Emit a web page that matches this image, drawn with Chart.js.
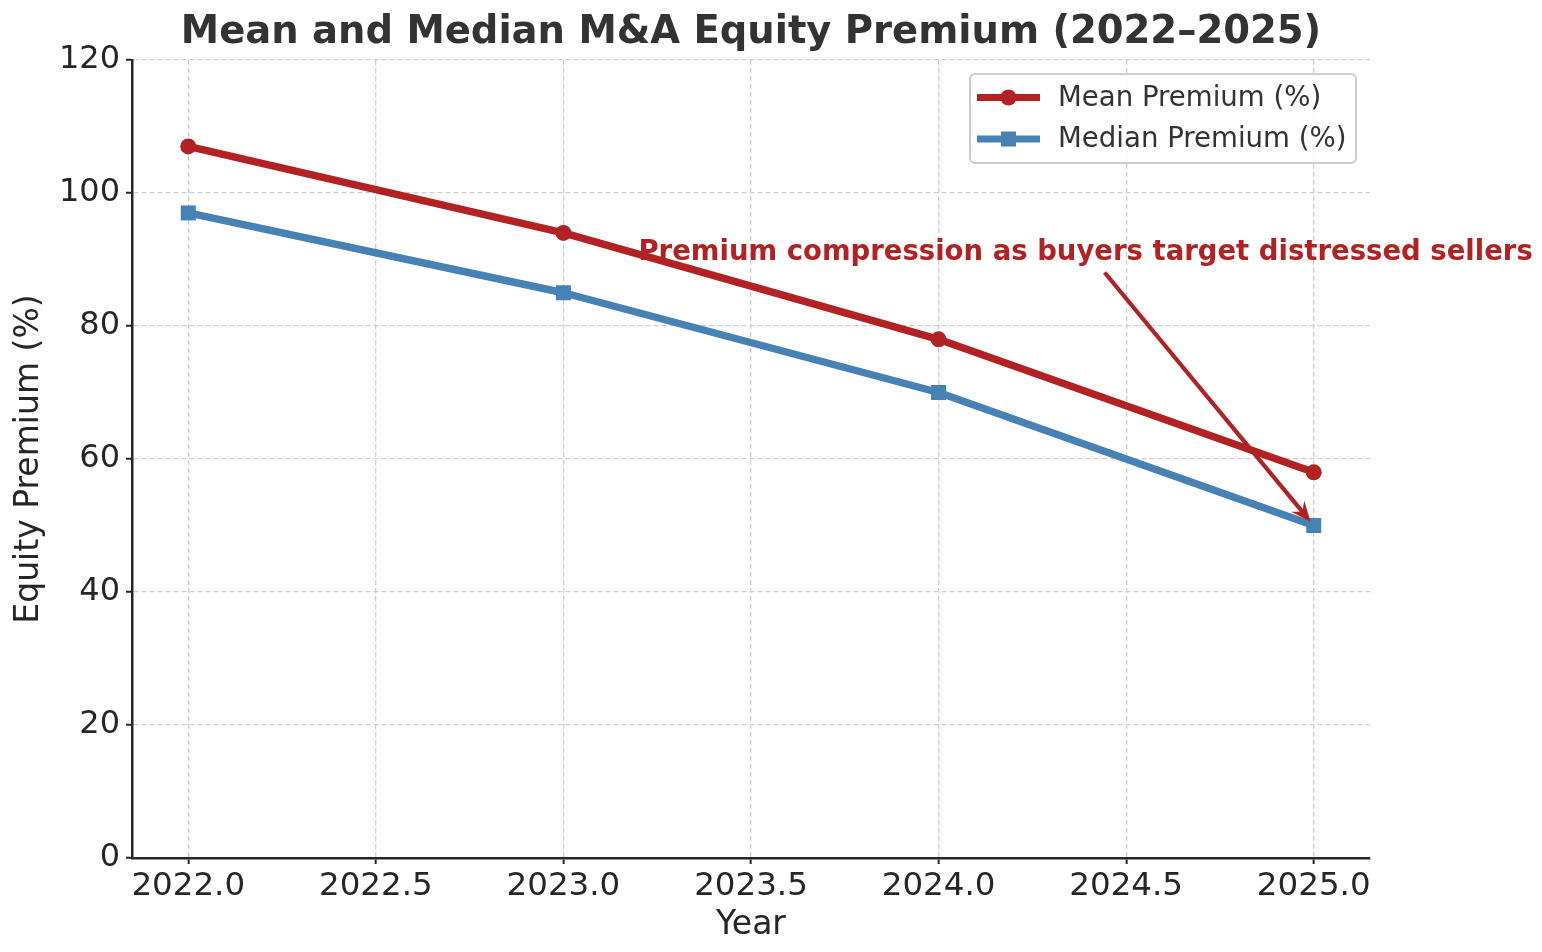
<!DOCTYPE html>
<html>
<head>
<meta charset="utf-8">
<script src="https://cdn.jsdelivr.net/npm/chart.js@4/dist/chart.umd.min.js"></script>
<style>
  html, body { margin: 0; padding: 0; background: #fff; }
  canvas { display: block; }
</style>
</head>
<body>
<canvas id="premiumChart" width="1542" height="952"></canvas>
<script>
// data
var years = [2022, 2023, 2024, 2025];
var meanPremium = [107, 94, 78, 58];
var medianPremium = [97, 85, 70, 50];
var xTicks = [2022.0, 2022.5, 2023.0, 2023.5, 2024.0, 2024.5, 2025.0];
var yTicks = [0, 20, 40, 60, 80, 100, 120];
var noteText = 'Premium compression as buyers target distressed sellers';
var notePos = [2023.2, 90];      // text anchor (left, baseline)
var noteTarget = [2025, 50];     // arrow points here

var FONT = '"DejaVu Sans", Verdana, sans-serif';
var RED = '#b22222';
var BLUE = '#4682b4';
var INK = '#262626';

function toPoints(xs, ys) {
    return xs.map(function (x, i) { return {x: x, y: ys[i]}; });
}

///*********** annotation + legend ***********///

var extras = {
    id: 'extras',
    afterDatasetsDraw: function (chart) {
        var ctx = chart.ctx;
        var sx = chart.scales.x, sy = chart.scales.y;

        var tx = sx.getPixelForValue(notePos[0]);
        var ty = sy.getPixelForValue(notePos[1]);
        ctx.save();
        ctx.font = 'bold 27.5px ' + FONT;
        ctx.fillStyle = RED;
        ctx.textAlign = 'left';
        ctx.textBaseline = 'alphabetic';
        ctx.fillText(noteText, tx, ty);
        var w = ctx.measureText(noteText).width;

        // arrow from text centre, clipped below the text box
        var cx = tx + w / 2, cy = ty - 10;
        var ex = sx.getPixelForValue(noteTarget[0]);
        var ey = sy.getPixelForValue(noteTarget[1]);
        var dx = ex - cx, dy = ey - cy;
        var len = Math.sqrt(dx * dx + dy * dy);
        var ux = dx / len, uy = dy / len;
        var t0 = (ty + 13 - cy) / uy;
        var x0 = cx + ux * t0, y0 = cy + uy * t0;
        var x1 = ex - ux * 5, y1 = ey - uy * 5;
        var head = 20, half = 8.5;
        ctx.strokeStyle = RED;
        ctx.lineWidth = 4.2;
        ctx.lineCap = 'butt';
        ctx.beginPath();
        ctx.moveTo(x0, y0);
        ctx.lineTo(x1 - ux * head * 0.6, y1 - uy * head * 0.6);
        ctx.stroke();
        ctx.beginPath();
        ctx.moveTo(x1, y1);
        ctx.lineTo(x1 - ux * head - uy * half, y1 - uy * head + ux * half);
        ctx.lineTo(x1 - ux * head * 0.65, y1 - uy * head * 0.65);
        ctx.lineTo(x1 - ux * head + uy * half, y1 - uy * head - ux * half);
        ctx.closePath();
        ctx.fillStyle = RED;
        ctx.fill();
        ctx.restore();
    },
    afterDraw: function (chart) {
        var ctx = chart.ctx;
        var area = chart.chartArea;
        var bw = 386, bh = 89;
        var bx = area.right - 14 - bw, by = area.top + 14;
        ctx.save();
        ctx.beginPath();
        ctx.roundRect(bx, by, bw, bh, 5);
        ctx.fillStyle = 'rgba(255,255,255,0.85)';
        ctx.fill();
        ctx.strokeStyle = '#cccccc';
        ctx.lineWidth = 2;
        ctx.stroke();

        chart.data.datasets.forEach(function (ds, i) {
            var y = by + 23.5 + i * 41.5;
            var lx = bx + 7;
            ctx.strokeStyle = ds.borderColor;
            ctx.lineWidth = 7;
            ctx.lineCap = 'butt';
            ctx.beginPath();
            ctx.moveTo(lx, y);
            ctx.lineTo(lx + 63, y);
            ctx.stroke();
            ctx.fillStyle = ds.borderColor;
            if (ds.pointStyle === 'rect') {
                ctx.fillRect(lx + 31.5 - 7.5, y - 7.5, 15, 15);
            } else {
                ctx.beginPath();
                ctx.arc(lx + 31.5, y, 8, 0, Math.PI * 2);
                ctx.fill();
            }
            ctx.font = '27.6px ' + FONT;
            ctx.fillStyle = '#333333';
            ctx.textBaseline = 'middle';
            ctx.fillText(ds.label, lx + 81, y + 1);
        });
        ctx.restore();
    }
};

///*********** chart ***********///

var gridOpts = {
    color: '#cfcfcf',
    lineWidth: 1.3,
    tickColor: INK,
    tickLength: 6,
    tickWidth: 2,
    tickBorderDash: [1, 0]
};
var borderOpts = {color: INK, width: 2.5, dash: [5, 3]};

var premiumChart = new Chart(document.getElementById('premiumChart'), {
    type: 'line',
    data: {
        datasets: [
            {
                label: 'Mean Premium (%)',
                data: toPoints(years, meanPremium),
                borderColor: RED,
                backgroundColor: RED,
                borderWidth: 7.5,
                pointStyle: 'circle',
                pointRadius: 8,
                pointHoverRadius: 8,
                pointBorderWidth: 0,
                borderJoinStyle: 'round',
                borderCapStyle: 'round'
            },
            {
                label: 'Median Premium (%)',
                data: toPoints(years, medianPremium),
                borderColor: BLUE,
                backgroundColor: BLUE,
                borderWidth: 7.5,
                pointStyle: 'rect',
                pointRadius: 10.6,
                pointHoverRadius: 10.6,
                pointBorderWidth: 0,
                borderJoinStyle: 'round',
                borderCapStyle: 'round'
            }
        ]
    },
    options: {
        responsive: false,
        animation: false,
        devicePixelRatio: 1,
        layout: {padding: {left: 0, right: 172, top: 0, bottom: 0}},
        plugins: {
            legend: {display: false},
            tooltip: {enabled: false},
            title: {
                display: true,
                fullSize: false,
                text: 'Mean and Median M&A Equity Premium (2022\u20132025)',
                color: '#333333',
                font: {family: FONT, size: 38.5, weight: 'bold', lineHeight: 1.2},
                padding: {top: 10, bottom: 3.8}
            }
        },
        scales: {
            x: {
                type: 'linear',
                min: 2021.85,
                max: 2025.15,
                afterBuildTicks: function (scale) {
                    scale.ticks = xTicks.map(function (v) { return {value: v}; });
                },
                afterFit: function (scale) { scale.height = 94; },
                ticks: {
                    color: INK,
                    font: {family: FONT, size: 32.5},
                    padding: 3,
                    maxRotation: 0,
                    autoSkip: false,
                    callback: function (v) { return Number(v).toFixed(1); }
                },
                grid: gridOpts,
                border: borderOpts,
                title: {
                    display: true,
                    text: 'Year',
                    color: INK,
                    font: {family: FONT, size: 33, lineHeight: 1.2},
                    padding: {top: 0, bottom: 7}
                }
            },
            y: {
                min: 0,
                max: 120,
                afterBuildTicks: function (scale) {
                    scale.ticks = yTicks.map(function (v) { return {value: v}; });
                },
                afterFit: function (scale) { scale.width = 132; },
                ticks: {
                    color: INK,
                    font: {family: FONT, size: 32},
                    padding: 6
                },
                grid: gridOpts,
                border: borderOpts,
                title: {
                    display: true,
                    text: 'Equity Premium (%)',
                    color: INK,
                    font: {family: FONT, size: 33, lineHeight: 1.2},
                    padding: {top: 10, bottom: 0}
                }
            }
        }
    },
    plugins: [extras]
});
</script>
</body>
</html>
